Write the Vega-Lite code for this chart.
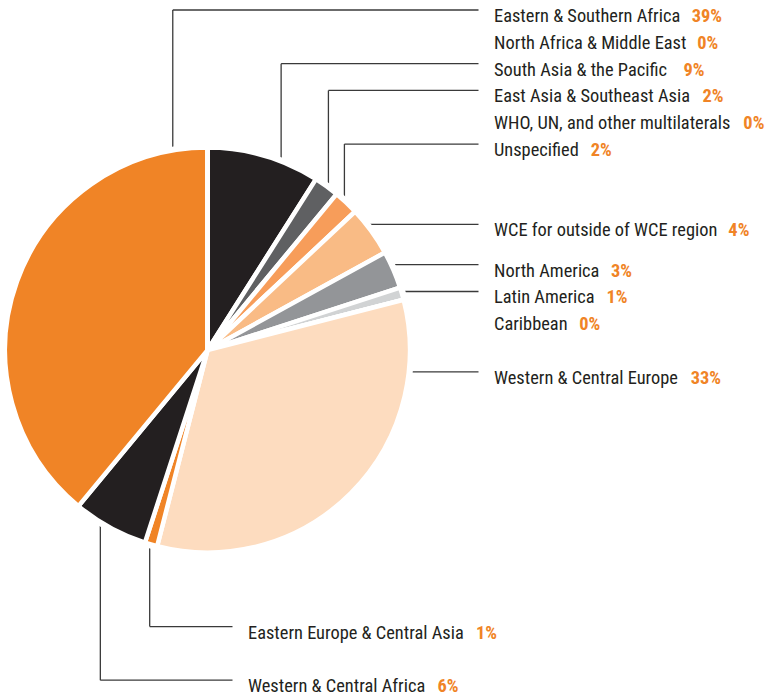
{
  "$schema": "https://vega.github.io/schema/vega-lite/v6.json",
  "width": 769,
  "height": 697,
  "padding": 0,
  "autosize": {"type": "none"},
  "config": {"view": {"stroke": null}},
  "data": {
    "values": [
      {"seq": 1, "region": "South Asia &  the Pacific", "pct": 9},
      {"seq": 2, "region": "East Asia & Southeast Asia", "pct": 2},
      {"seq": 3, "region": "Unspecified", "pct": 2},
      {"seq": 4, "region": "WCE for outside of WCE region", "pct": 4},
      {"seq": 5, "region": "North America", "pct": 3},
      {"seq": 6, "region": "Latin America", "pct": 1},
      {"seq": 7, "region": "Caribbean", "pct": 0},
      {"seq": 8, "region": "Western & Central Europe", "pct": 33},
      {"seq": 9, "region": "Eastern Europe & Central Asia", "pct": 1},
      {"seq": 10, "region": "Western & Central Africa", "pct": 6},
      {"seq": 11, "region": "Eastern & Southern Africa", "pct": 39},
      {"seq": 12, "region": "North Africa & Middle East", "pct": 0},
      {"seq": 13, "region": "WHO, UN, and other multilaterals", "pct": 0}
    ]
  },
  "transform": [
    {"window": [{"op": "sum", "field": "pct", "as": "cum1"}], "sort": [{"field": "seq"}], "frame": [null, 0]},
    {"calculate": "datum.cum1 - datum.pct", "as": "cum0"},
    {"calculate": "datum.cum0 * 2 * PI / 100", "as": "a0"},
    {"calculate": "datum.cum1 * 2 * PI / 100", "as": "a1"},
    {"calculate": "(datum.a0 + datum.a1) / 2", "as": "mid"},
    {"calculate": "datum.mid > PI / 4 && datum.mid <= PI ? 'right' : (datum.mid > PI && datum.mid <= 1.5 * PI ? 'bottom' : 'top')", "as": "side"},
    {"calculate": "datum.side == 'top' ? max(datum.a0 > PI ? datum.a0 - 2 * PI : datum.a0, -PI / 6) : datum.a0", "as": "lo"},
    {"calculate": "datum.side == 'top' ? min(datum.a1 > PI ? datum.a1 - 2 * PI : datum.a1, PI / 4) : datum.a1", "as": "hi"},
    {"calculate": "(datum.lo + 2 * datum.hi) / 3", "as": "anchor"},
    {"calculate": "datum.side == 'right' ? 0 : sin(datum.anchor)", "as": "ax"},
    {"calculate": "datum.side == 'bottom' ? 0.2025 : 1.4325", "as": "labelX"},
    {"calculate": "datum.labelX - 0.0775", "as": "lineEnd"},
    {"calculate": "540*length(datum.region) - 30*(length(datum.region)-length(replace(datum.region,regexp('[ces]','g'),''))) - 303*(length(datum.region)-length(replace(datum.region,regexp('[il]','g'),''))) - 210*(length(datum.region)-length(replace(datum.region,regexp('[frt]','g'),''))) - 292*(length(datum.region)-length(replace(datum.region,regexp(' ','g'),''))) - 348*(length(datum.region)-length(replace(datum.region,regexp(',','g'),''))) + 81*(length(datum.region)-length(replace(datum.region,regexp('&','g'),''))) + 315*(length(datum.region)-length(replace(datum.region,regexp('m','g'),''))) + 334*(length(datum.region)-length(replace(datum.region,regexp('M','g'),''))) + 349*(length(datum.region)-length(replace(datum.region,regexp('W','g'),''))) + 174*(length(datum.region)-length(replace(datum.region,regexp('[HN]','g'),''))) + 110*(length(datum.region)-length(replace(datum.region,regexp('[ACU]','g'),''))) + 148*(length(datum.region)-length(replace(datum.region,regexp('O','g'),''))) + 91*(length(datum.region)-length(replace(datum.region,regexp('P','g'),''))) + 54*(length(datum.region)-length(replace(datum.region,regexp('S','g'),''))) + 28*(length(datum.region)-length(replace(datum.region,regexp('E','g'),'')))", "as": "em"},
    {"calculate": "datum.labelX + (datum.em * 18.4 * 0.9 / 1000 + 12) / 200", "as": "pctX"},
    {"calculate": "datum.pct + '%'", "as": "pctLabel"}
  ],
  "layer": [
    {
      "transform": [{"filter": "datum.pct > 0 && datum.side != 'right'"}],
      "mark": {"type": "rule", "color": "#3a3a3a", "strokeWidth": 1.3, "yOffset": -5},
      "encoding": {
        "x": {"field": "ax", "type": "quantitative", "scale": {"domain": [-1.0375, 2.8075], "nice": false, "zero": false}, "axis": null},
        "y": {"field": "region", "type": "nominal", "axis": null, "scale": {"type": "point", "padding": 1.203, "align": 0.56, "domain": ["Eastern & Southern Africa", "g1", "North Africa & Middle East", "g3", "South Asia &  the Pacific", "g5", "East Asia & Southeast Asia", "g7", "WHO, UN, and other multilaterals", "g9", "Unspecified", "g11", "g12", "g13", "g14", "g15", "WCE for outside of WCE region", "g17", "g18", "North America", "g20", "Latin America", "g22", "Caribbean", "g24", "centre", "g26", "Western & Central Europe", "g28", "g29", "g30", "g31", "g32", "g33", "g34", "g35", "g36", "g37", "g38", "g39", "g40", "g41", "g42", "g43", "g44", "g45", "Eastern Europe & Central Asia", "g47", "g48", "g49", "Western & Central Africa"]}},
        "y2": {"datum": "centre"}
      }
    },
    {
      "transform": [{"filter": "datum.pct > 0"}],
      "mark": {"type": "rule", "color": "#3a3a3a", "strokeWidth": 1.3, "yOffset": -5},
      "encoding": {
        "x": {"field": "ax", "type": "quantitative", "axis": null},
        "x2": {"field": "lineEnd"},
        "y": {"field": "region", "type": "nominal", "axis": null}
      }
    },
    {
      "mark": {"type": "arc", "outerRadius": 206.5, "fill": "white", "stroke": null},
      "encoding": {
        "theta": {"field": "cum0", "type": "quantitative", "stack": null, "scale": {"domain": [0, 100], "range": [0, 6.283185307179586]}},
        "theta2": {"field": "cum1"},
        "x": {"datum": 0, "type": "quantitative", "axis": null},
        "y": {"datum": "centre", "type": "nominal", "axis": null}
      }
    },
    {
      "mark": {"type": "arc", "outerRadius": 202.5, "stroke": "white", "strokeWidth": 4.5},
      "encoding": {
        "theta": {"field": "cum0", "type": "quantitative", "stack": null},
        "theta2": {"field": "cum1"},
        "x": {"datum": 0, "type": "quantitative", "axis": null},
        "y": {"datum": "centre", "type": "nominal", "axis": null},
        "color": {
          "field": "region", "type": "nominal", "legend": null,
          "scale": {
            "domain": ["South Asia &  the Pacific", "East Asia & Southeast Asia", "Unspecified", "WCE for outside of WCE region", "North America", "Latin America", "Caribbean", "Western & Central Europe", "Eastern Europe & Central Asia", "Western & Central Africa", "Eastern & Southern Africa", "North Africa & Middle East", "WHO, UN, and other multilaterals"],
            "range": ["#231f20", "#5f6062", "#f79d5a", "#f9bb85", "#939598", "#d1d3d4", "#d1d3d4", "#fddcbf", "#f08426", "#231f20", "#f08426", "#231f20", "#939598"]
          }
        }
      }
    },
    {
      "mark": {"type": "text", "align": "left", "baseline": "alphabetic", "dy": 7, "font": "Roboto Condensed", "fontSize": 18.4, "color": "#231f20"},
      "encoding": {
        "x": {"field": "labelX", "type": "quantitative", "axis": null},
        "y": {"field": "region", "type": "nominal", "axis": null},
        "text": {"field": "region"}
      }
    },
    {
      "mark": {"type": "text", "align": "left", "baseline": "alphabetic", "dy": 7, "font": "Roboto Condensed", "fontSize": 18.4, "fontWeight": "bold", "color": "#f08426"},
      "encoding": {
        "x": {"field": "pctX", "type": "quantitative", "axis": null},
        "y": {"field": "region", "type": "nominal", "axis": null},
        "text": {"field": "pctLabel"}
      }
    }
  ]
}
